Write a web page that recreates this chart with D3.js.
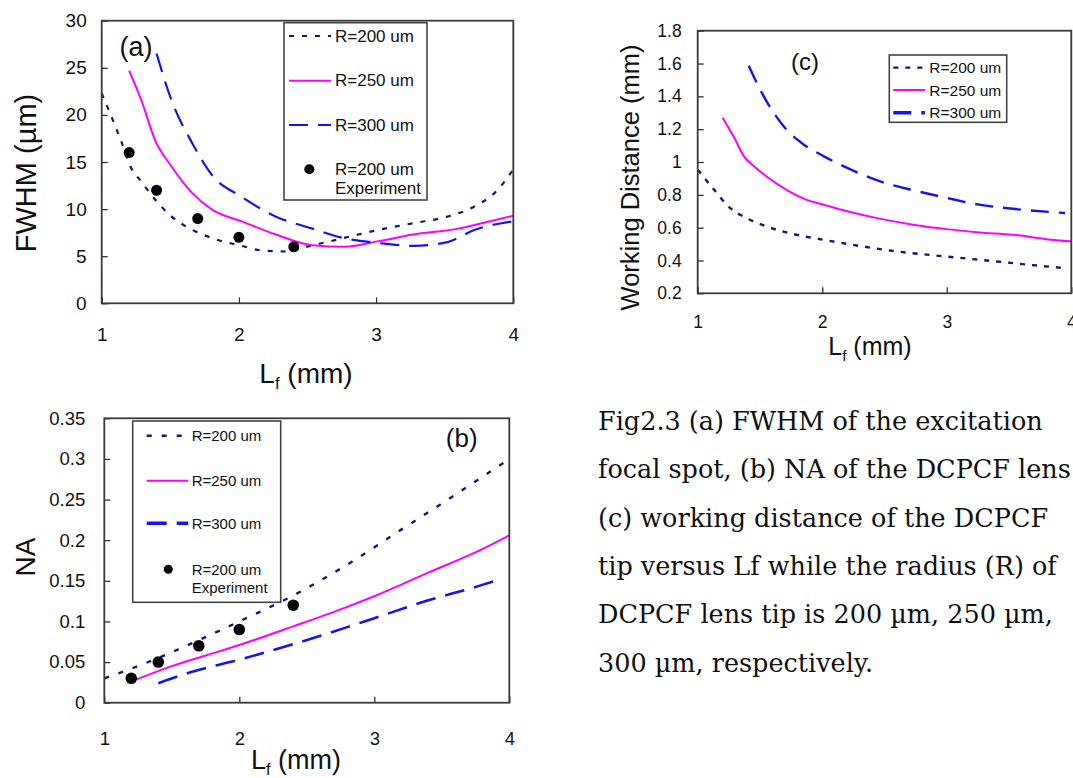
<!DOCTYPE html>
<html>
<head>
<meta charset="utf-8">
<script src="https://cdn.jsdelivr.net/npm/d3@7"></script>
<style>
  html, body { margin: 0; padding: 0; background: #fff; }
  svg { display: block; font-family: "Liberation Sans", Arial, sans-serif; }
</style>
</head>
<body>
<svg id="chart" width="1073" height="778"></svg>
<script>
/* Values */
const xTicks = [1, 2, 3, 4];

// (a) FWHM (um) versus Lf (mm)
const fwhmLf200 = [1, 1.06, 1.14, 1.21, 1.29, 1.39, 1.51, 1.66, 1.81, 2.02, 2.17, 2.34, 2.52, 2.67, 2.87, 3.02, 3.27, 3.52, 3.72, 3.87, 4];
const fwhm200 = [22.3, 20.2, 17.3, 14.5, 12.9, 11.0, 9.2, 7.8, 6.9, 6.1, 5.6, 5.5, 6.1, 6.6, 7.3, 7.8, 8.5, 9.2, 10.3, 11.8, 14.2];
const fwhmLf250 = [1.2, 1.29, 1.39, 1.51, 1.66, 1.81, 2.02, 2.27, 2.52, 2.77, 3.02, 3.27, 3.59, 3.77, 4];
const fwhm250 = [24.7, 21.5, 17.3, 14.5, 11.7, 9.9, 8.7, 7.3, 6.2, 6.0, 6.6, 7.3, 7.9, 8.5, 9.3];
const fwhmLf300 = [1.4, 1.51, 1.66, 1.81, 2.02, 2.27, 2.52, 2.77, 3.02, 3.27, 3.52, 3.72, 4];
const fwhm300 = [26.5, 21.5, 17.0, 13.5, 11.3, 9.2, 8.0, 6.9, 6.4, 6.1, 6.5, 7.8, 8.7];
const expLf = [1.2, 1.4, 1.7, 2.0, 2.4];
const expFwhm = [16, 12, 9, 7, 6];
const fwhmTicks = [0, 5, 10, 15, 20, 25, 30];

// (b) NA versus Lf (mm)
const naLf200 = [1, 1.2, 1.4, 1.7, 2.0, 2.4, 2.8, 3.2, 3.6, 4];
const na200 = [0.030, 0.042, 0.055, 0.077, 0.100, 0.132, 0.170, 0.213, 0.256, 0.300];
const naLf250 = [1.2, 1.5, 1.75, 2.0, 2.4, 2.8, 3.0, 3.4, 3.8, 4];
const na250 = [0.026, 0.045, 0.058, 0.071, 0.094, 0.118, 0.131, 0.160, 0.189, 0.206];
const naLf300 = [1.4, 1.65, 2.0, 2.4, 2.8, 3.0, 3.4, 3.8, 3.95];
const na300 = [0.024, 0.038, 0.053, 0.072, 0.093, 0.104, 0.126, 0.145, 0.153];
const expNa = [0.03, 0.05, 0.07, 0.09, 0.12];
const naTicks = [0, 0.05, 0.1, 0.15, 0.2, 0.25, 0.3, 0.35];

// (c) Working distance (mm) versus Lf (mm)
const wdLf200 = [1, 1.13, 1.26, 1.39, 1.55, 1.79, 2.01, 2.33, 2.6, 2.86, 3.13, 3.4, 3.67, 3.96];
const wd200 = [0.954, 0.832, 0.72, 0.659, 0.608, 0.557, 0.526, 0.485, 0.455, 0.434, 0.414, 0.394, 0.373, 0.353];
const wdLf250 = [1.2, 1.3, 1.37, 1.45, 1.55, 1.71, 1.87, 2.01, 2.2, 2.46, 2.73, 3.0, 3.26, 3.53, 3.8, 4];
const wd250 = [1.27, 1.138, 1.036, 0.975, 0.913, 0.832, 0.771, 0.74, 0.70, 0.655, 0.618, 0.591, 0.571, 0.557, 0.53, 0.516];
const wdLf300 = [1.41, 1.5, 1.61, 1.71, 1.85, 2.01, 2.2, 2.46, 2.73, 3.0, 3.26, 3.53, 3.95];
const wd300 = [1.586, 1.443, 1.30, 1.20, 1.107, 1.036, 0.964, 0.883, 0.828, 0.781, 0.74, 0.715, 0.689];
const wdTicks = [0.2, 0.4, 0.6, 0.8, 1, 1.2, 1.4, 1.6, 1.8];

const seriesNames = ["R=200 um", "R=250 um", "R=300 um"];
const expNames = ["R=200 um", "Experiment"];

// Caption as visible in the figure (the page edge cuts it off)
const captionLines = [
  "Fig2.3 (a) FWHM of the excitation",
  "focal spot, (b) NA of the DCPCF lens",
  "(c) working distance of the DCPCF",
  "tip versus Lf while the radius (R) of",
  "DCPCF lens tip is 200 \u00b5m, 250 \u00b5m,",
  "300 \u00b5m, respectively."
];

/* Styles per series */
const colors = ["#15157a", "#ff00ff", "#1414f0"];

const svg = d3.select("#chart");

function zip(xs, ys) {
  return xs.map((x, i) => ({ x, y: ys[i] }));
}

/**
 * Draws one panel: frame, inward ticks, lines, dots, legend and labels.
 */
function drawPanel(p) {
  const g = svg.append("g");
  const x = d3.scaleLinear().domain([1, 4]).range([p.left, p.right]);
  const y = d3.scaleLinear().domain(p.yDomain).range([p.bottom, p.top]);

  // Axes, ticks pointing into the plot
  const yAxis = g.append("g")
    .attr("transform", `translate(${p.left},0)`)
    .call(d3.axisLeft(y).tickValues(p.yTicks).tickSize(-6).tickPadding(p.yPad).tickFormat(p.yFormat));
  const xAxis = g.append("g")
    .attr("transform", `translate(0,${p.bottom})`)
    .call(d3.axisBottom(x).tickValues(xTicks).tickSize(-6).tickPadding(p.xPad).tickFormat(d3.format("d")));
  [yAxis, xAxis].forEach(a => {
    a.select(".domain").remove();
    a.selectAll(".tick line").attr("stroke", "#333").attr("stroke-width", 1.3);
    a.selectAll("text").attr("fill", "#111").style("font-size", p.tickFont + "px")
      .style("font-family", "'Liberation Sans', Arial, sans-serif");
  });

  // Curves
  const line = d3.line().x(d => x(d.x)).y(d => y(d.y)).curve(d3.curveMonotoneX);
  p.series.forEach((s, i) => {
    g.append("path")
      .datum(s)
      .attr("d", line)
      .attr("fill", "none")
      .attr("stroke", colors[i])
      .attr("stroke-width", p.widths[i])
      .attr("stroke-dasharray", p.dashes[i]);
  });

  // Experimental points
  if (p.exp) {
    g.selectAll("circle.exp")
      .data(p.exp)
      .join("circle")
      .attr("class", "exp")
      .attr("cx", d => x(d.x))
      .attr("cy", d => y(d.y))
      .attr("r", p.dotR)
      .attr("fill", "#000");
  }

  // Frame
  g.append("rect")
    .attr("x", p.left).attr("y", p.top)
    .attr("width", p.right - p.left).attr("height", p.bottom - p.top)
    .attr("fill", "none").attr("stroke", "#3a3a3a").attr("stroke-width", 1.8);

  // Legend
  const L = p.legend;
  g.append("rect")
    .attr("x", L.x0).attr("y", L.y0)
    .attr("width", L.x1 - L.x0).attr("height", L.y1 - L.y0)
    .attr("fill", "#fff").attr("stroke", "#444").attr("stroke-width", 1.6);
  L.rows.forEach((yy, i) => {
    g.append("line")
      .attr("x1", L.lineX0).attr("x2", L.lineX1)
      .attr("y1", yy).attr("y2", yy)
      .attr("stroke", colors[i])
      .attr("stroke-width", L.widths ? L.widths[i] : p.widths[i])
      .attr("stroke-dasharray", L.dashes ? L.dashes[i] : p.dashes[i]);
    g.append("text")
      .attr("x", L.textX).attr("y", yy)
      .attr("dominant-baseline", "central")
      .style("font-size", L.font + "px")
      .attr("fill", "#111")
      .text(seriesNames[i]);
  });
  if (L.expY) {
    g.append("circle")
      .attr("cx", L.dotX).attr("cy", L.expY[0]).attr("r", L.dotR).attr("fill", "#000");
    expNames.forEach((t, i) => {
      g.append("text")
        .attr("x", L.textX).attr("y", L.expY[i])
        .attr("dominant-baseline", "central")
        .style("font-size", L.font + "px")
        .attr("fill", "#111")
        .text(t);
    });
  }

  // Panel tag, e.g. "(a)"
  g.append("text")
    .attr("x", p.tag.x).attr("y", p.tag.y)
    .attr("text-anchor", "middle").attr("dominant-baseline", "central")
    .style("font-size", p.tag.size + "px").attr("fill", "#111")
    .text(p.tag.text);

  // X title with subscript f
  const xt = g.append("text")
    .attr("x", p.xTitle.x).attr("y", p.xTitle.y)
    .attr("text-anchor", "middle")
    .style("font-size", p.xTitle.size + "px").attr("fill", "#111");
  xt.append("tspan").text("L");
  xt.append("tspan").attr("dy", p.xTitle.size * 0.22).style("font-size", (p.xTitle.size * 0.6) + "px").text("f");
  xt.append("tspan").attr("dy", -p.xTitle.size * 0.22).text(" (mm)");

  // Y title, rotated
  g.append("text")
    .attr("transform", `translate(${p.yTitle.x},${p.yTitle.y}) rotate(-90)`)
    .attr("text-anchor", "middle").attr("dominant-baseline", "central")
    .style("font-size", p.yTitle.size + "px").attr("fill", "#111")
    .text(p.yTitle.text);
}

// (a)
drawPanel({
  left: 101.7, right: 513.3, top: 20.7, bottom: 303.3,
  yDomain: [0, 30], yTicks: fwhmTicks, yFormat: d3.format("d"),
  yPad: 15, xPad: 24, tickFont: 19,
  series: [zip(fwhmLf200, fwhm200), zip(fwhmLf250, fwhm250), zip(fwhmLf300, fwhm300)],
  widths: [2.2, 2, 2.2], dashes: ["5,8", null, "19,10"],
  exp: zip(expLf, expFwhm), dotR: 5.5,
  legend: {
    x0: 284, x1: 427, y0: 22.7, y1: 200,
    rows: [36, 80.7, 125], lineX0: 289, lineX1: 331, textX: 335, font: 17,
    expY: [169.3, 188.3], dotX: 309.3, dotR: 5
  },
  tag: { text: "(a)", x: 136, y: 46.7, size: 27 },
  xTitle: { x: 306, y: 383, size: 28 },
  yTitle: { text: "FWHM (\u00b5m)", x: 26, y: 173, size: 29 }
});

// (b)
drawPanel({
  left: 104.3, right: 509.3, top: 418.3, bottom: 702.7,
  yDomain: [0, 0.35], yTicks: naTicks, yFormat: d => String(+d.toFixed(2)),
  yPad: 19, xPad: 29, tickFont: 18.5,
  series: [zip(naLf200, na200), zip(naLf250, na250), zip(naLf300, na300)],
  widths: [2.4, 2, 2.6], dashes: ["5,10", null, "20,10"],
  exp: zip(expLf, expNa), dotR: 5.8,
  legend: {
    x0: 132.7, x1: 280.7, y0: 421, y1: 602.3,
    rows: [435.7, 480.7, 523.3], lineX0: 146.7, lineX1: 188.3, textX: 191.7, font: 15,
    widths: [2.4, 2, 3.4],
    expY: [569.3, 587.7], dotX: 168.3, dotR: 4.5
  },
  tag: { text: "(b)", x: 461.7, y: 438.3, size: 26 },
  xTitle: { x: 296, y: 769, size: 27 },
  yTitle: { text: "NA", x: 25, y: 557, size: 28 }
});

// (c)
drawPanel({
  left: 697.7, right: 1071.3, top: 30.7, bottom: 293.3,
  yDomain: [0.2, 1.8], yTicks: wdTicks, yFormat: d => String(+d.toFixed(1)),
  yPad: 16, xPad: 22, tickFont: 17.5,
  series: [zip(wdLf200, wd200), zip(wdLf250, wd250), zip(wdLf300, wd300)],
  widths: [2.4, 2, 2.4], dashes: ["5,7", null, "18,10"],
  exp: null,
  legend: {
    x0: 889.3, x1: 1006.7, y0: 55, y1: 122.3,
    rows: [67.7, 90, 112.7], lineX0: 893.3, lineX1: 925, textX: 929.3, font: 15.5,
    widths: [2.2, 2, 3.4], expY: null
  },
  tag: { text: "(c)", x: 805, y: 61.7, size: 24 },
  xTitle: { x: 870, y: 355, size: 25 },
  yTitle: { text: "Working Distance (mm)", x: 630, y: 177.5, size: 25.5 }
});

// Caption block on the right
const caption = svg.append("text")
  .attr("x", 598)
  .style("font-family", "'DejaVu Serif', 'Liberation Serif', serif")
  .style("font-size", "25.5px")
  .attr("fill", "#111");
captionLines.forEach((t, i) => {
  caption.append("tspan")
    .attr("x", 598)
    .attr("y", 430 + i * 48.3)
    .text(t);
});
</script>
</body>
</html>
